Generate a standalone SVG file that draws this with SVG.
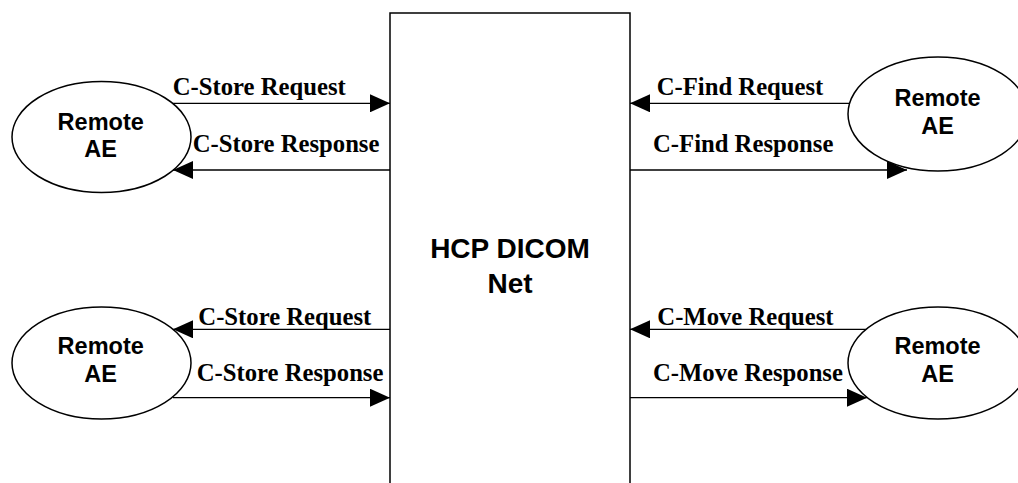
<svg xmlns="http://www.w3.org/2000/svg" width="1018" height="483" viewBox="0 0 1018 483">
  <style>
    .shape { fill: #ffffff; stroke: #000000; stroke-width: 1.5; }
    .node-label { font-family: "Liberation Sans", Arial, sans-serif; font-weight: bold; font-size: 23.5px; fill: #000000; text-anchor: middle; }
    .core-label { font-family: "Liberation Sans", Arial, sans-serif; font-weight: bold; font-size: 28px; fill: #000000; text-anchor: middle; }
    .msg { font-family: "Liberation Serif", "Times New Roman", serif; font-weight: bold; font-size: 24.7px; fill: #000000; }
    .wire { fill: none; stroke: #000000; stroke-width: 1.3; marker-end: url(#head); }
  </style>
  <defs>
    <marker id="head" viewBox="0 0 20 18" refX="20" refY="9" markerWidth="20" markerHeight="18" markerUnits="userSpaceOnUse" orient="auto">
      <path d="M0,0 L20,9 L0,18 Z" fill="#000000"/>
    </marker>
  </defs>

  <rect width="1018" height="483" fill="#ffffff"/>

  <!-- central service provider -->
  <g id="hcp-dicom-net">
    <rect class="shape" x="390" y="13" width="240" height="490"/>
    <text class="core-label" x="510" y="258">HCP DICOM</text>
    <text class="core-label" x="510" y="293">Net</text>
  </g>

  <!-- remote application entities -->
  <g id="remote-ae-store-scu">
    <ellipse class="shape" cx="101.5" cy="137" rx="89.5" ry="55.5"/>
    <text class="node-label" x="100.7" y="129.5">Remote</text>
    <text class="node-label" x="100.7" y="157">AE</text>
  </g>
  <g id="remote-ae-find">
    <ellipse class="shape" cx="938" cy="114" rx="90" ry="57"/>
    <text class="node-label" x="937.5" y="106">Remote</text>
    <text class="node-label" x="937.5" y="134">AE</text>
  </g>
  <g id="remote-ae-store-scp">
    <ellipse class="shape" cx="101.5" cy="363" rx="89.5" ry="56"/>
    <text class="node-label" x="100.7" y="354">Remote</text>
    <text class="node-label" x="100.7" y="382">AE</text>
  </g>
  <g id="remote-ae-move">
    <ellipse class="shape" cx="938" cy="363" rx="90" ry="56"/>
    <text class="node-label" x="937.5" y="354">Remote</text>
    <text class="node-label" x="937.5" y="382">AE</text>
  </g>

  <!-- message flows -->
  <g id="connectors">
    <path class="wire" d="M172,103.3 H390"/>
    <path class="wire" d="M390,170 H173"/>
    <path class="wire" d="M849,103.3 H630"/>
    <path class="wire" d="M630,170 H907"/>
    <path class="wire" d="M390,329.3 H173"/>
    <path class="wire" d="M173,397.7 H390"/>
    <path class="wire" d="M866,329.3 H630"/>
    <path class="wire" d="M630,397.7 H867"/>

    <text class="msg" x="172.7" y="95">C-Store Request</text>
    <text class="msg" x="192.7" y="152">C-Store Response</text>
    <text class="msg" x="656.7" y="95">C-Find Request</text>
    <text class="msg" x="653" y="152">C-Find Response</text>
    <text class="msg" x="198.3" y="325">C-Store Request</text>
    <text class="msg" x="196.7" y="381">C-Store Response</text>
    <text class="msg" x="657.3" y="325">C-Move Request</text>
    <text class="msg" x="653" y="381">C-Move Response</text>
  </g>
</svg>
